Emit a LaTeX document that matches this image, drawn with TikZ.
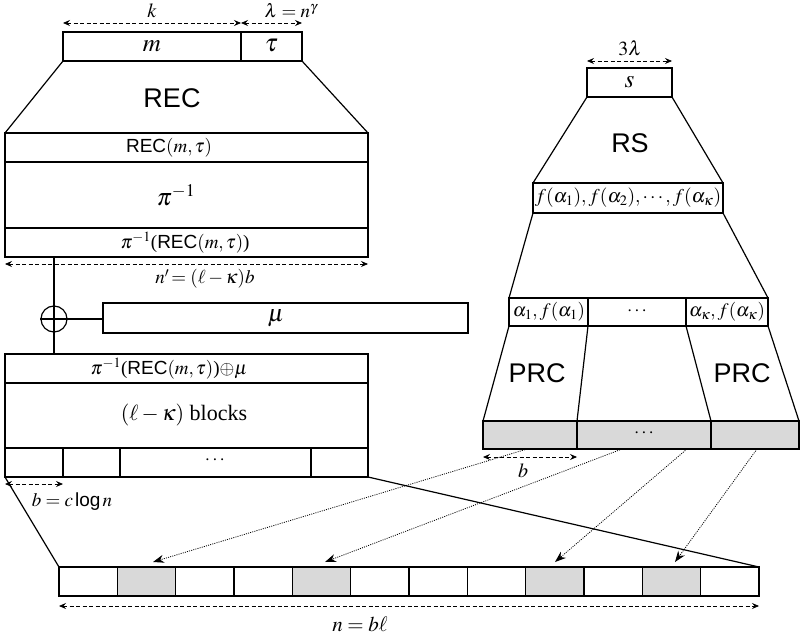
\RequirePackage{fix-cm}
\documentclass[tikz,border=0pt]{standalone}
\usepackage{mathptmx}
\usepackage[no-math]{fontspec}
\setmainfont{Liberation Serif}
\setsansfont{Liberation Sans}
\usetikzlibrary{arrows.meta}
\definecolor{cellgray}{HTML}{D9D9D9}
\tikzset{
  dimtip/.tip={Stealth[length=7pt,width=6pt,inset=2.5pt]},
  dimarrow/.style={line width=0.8pt, dash pattern=on 4pt off 2.5pt, {dimtip}-{dimtip}},
  maparrow/.style={line width=0.8pt, dash pattern=on 1pt off 1.2pt, -{Stealth[length=11pt,width=8pt,inset=3.5pt]}},
  lbl/.style={inner sep=0pt, font=\fontsize{19}{22}\selectfont},
  dimlbl/.style={inner sep=0pt, font=\fontsize{20}{23}\selectfont},
  big/.style={inner sep=0pt, font=\fontsize{27}{30}\selectfont\sffamily},
  frame/.style={line width=1.2pt},
  grayfill/.style={fill=cellgray, line width=1.2pt}
}
\begin{document}
\begin{tikzpicture}[x=1pt,y=-1pt,line width=1.2pt,line join=miter]
\useasboundingbox (0,0) rectangle (800,636);

% ---------- left: m | tau ----------
\draw[frame] (63,32) rectangle (302,61);
\draw[frame] (241,32) -- (241,61);
\node[lbl, font=\fontsize{25}{28}\selectfont] (m) at (152,46) {$m$};
\node[lbl, font=\fontsize{25}{28}\selectfont] (tau) at (271.5,46) {$\tau$};
\coordinate (kL) at (63,23); \coordinate (kR) at (241,23); \coordinate (lR) at (302,23);
\draw[dimarrow] (kL) -- (kR);
\draw[dimarrow] (kR) -- (lR);
\node[dimlbl] (klbl) at (152,11) {$k$};
\node[dimlbl, font=\fontsize{19}{22}\selectfont] (lamlbl) at (291,11) {$\lambda=n^{\gamma}$};

% trapezoid REC
\draw[frame] (63,61) -- (5,133);
\draw[frame] (302,61) -- (368,133);
\node[big] (rec) at (172,98) {REC};

% REC(m,tau) / pi^-1 / pi^-1(REC)
\draw[frame] (5,133) rectangle (368,257);
\draw[frame] (5,162) -- (368,162);
\draw[frame] (5,228) -- (368,228);
\node[lbl] (recmt) at (169,147.5) {\textsf{REC}$(m,\tau)$};
\node[lbl, font=\fontsize{24}{28}\selectfont] (piinv) at (176,195) {$\pi^{-1}$};
\node[lbl] (pirec) at (185,242.5) {$\pi^{-1}$(\textsf{REC}$(m,\tau)$)};

% n'
\coordinate (nL) at (5,264); \coordinate (nR) at (368,264);
\draw[dimarrow] (nL) -- (nR);
\node[lbl] (nprime) at (205,279) {$n'\!=(\ell-\kappa)b$};

% xor
\node[draw, circle, line width=1.2pt, minimum size=26pt, inner sep=0pt] (xor) at (54,319) {};
\draw[line width=1.2pt] (xor.north) -- (xor.south);
\draw[line width=1.2pt] (xor.west) -- (xor.east);
\draw[frame] (54,257) -- (xor.north);
\draw[frame] (xor.south) -- (54,354);
\draw[frame] (103,303) rectangle (468,333);
\node[lbl, font=\fontsize{24}{28}\selectfont] (mu) at (276,318) {$\mu$};
\draw[frame] (xor.east) -- (103,319);

% lower box
\draw[frame] (5,354) rectangle (368,477);
\draw[frame] (5,383) -- (368,383);
\draw[frame] (5,448) -- (368,448);
\foreach \x in {63,120,311} \draw[frame] (\x,448) -- (\x,477);
\node[lbl] (xorlbl) at (169,368.5) {$\pi^{-1}$(\textsf{REC}$(m,\tau)$)$\oplus\mu$};
\node[lbl, font=\fontsize{22}{26}\selectfont] (blocks) at (184,415) {$(\ell-\kappa)$ blocks};
\node[lbl] (ldots) at (215,460) {$\cdots$};

% b = c log n
\coordinate (bL) at (5,484); \coordinate (bR) at (63,484);
\draw[dimarrow] (bL) -- (bR);
\node[lbl] (blog) at (72,502) {$b=c\,$\textsf{log}$\,n$};

% fan to bottom
\draw[frame] (5,477) -- (59,567);
\draw[frame] (368,477) -- (759,567);

% bottom strip
\foreach \i in {0,...,11} {
  \pgfmathsetmacro{\xa}{59+\i*58.333}
  \pgfmathsetmacro{\xb}{59+(\i+1)*58.333}
  \draw[frame] (\xa,567) rectangle (\xb,596);
}
\foreach \i in {1,4,8,10} {
  \pgfmathsetmacro{\xa}{59+\i*58.333}
  \pgfmathsetmacro{\xb}{59+(\i+1)*58.333}
  \draw[grayfill] (\xa,567) rectangle (\xb,596);
}
\coordinate (tA) at (153,562);
\coordinate (tB) at (325,562);
\coordinate (tC) at (555,562);
\coordinate (tD) at (675,562);
\coordinate (nbL) at (59,606); \coordinate (nbR) at (759,606);
\draw[dimarrow] (nbL) -- (nbR);
\node[dimlbl, font=\fontsize{21}{24}\selectfont] (nbl) at (360,624) {$n=b\ell$};

% ---------- right: s ----------
\draw[frame] (587,68) rectangle (672,97);
\node[lbl, font=\fontsize{25}{28}\selectfont] (s) at (629.5,82) {$s$};
\coordinate (sL) at (587,61); \coordinate (sR) at (672,61);
\draw[dimarrow] (sL) -- (sR);
\node[dimlbl] (three) at (630,48) {$3\lambda$};

\draw[frame] (587,97) -- (533,183);
\draw[frame] (672,97) -- (723,183);
\node[big] (rs) at (630,143) {RS};

\draw[frame] (533,183) rectangle (723,213);
\node[lbl, font=\fontsize{19.5}{22}\selectfont] (fvals) at (628,198) {$f(\alpha_1),f(\alpha_2),\cdots,f(\alpha_\kappa)$};

\draw[frame] (533,213) -- (509,298);
\draw[frame] (723,213) -- (768,298);

\draw[frame] (509,298) rectangle (768,326);
\draw[frame] (588,298) -- (588,326);
\draw[frame] (686,298) -- (686,326);
\node[lbl, font=\fontsize{19}{22}\selectfont] (a1) at (549,312) {$\alpha_1,f(\alpha_1)$};
\node[lbl] (adots) at (637,311) {$\cdots$};
\node[lbl, font=\fontsize{19}{22}\selectfont] (ak) at (727,312) {$\alpha_\kappa,f(\alpha_\kappa)$};

\draw[frame] (509,326) -- (483,421);
\draw[frame] (588,326) -- (577,421);
\draw[frame] (686,326) -- (711,421);
\draw[frame] (768,326) -- (799,421);
\node[big] (prc1) at (537,373) {PRC};
\node[big] (prc2) at (742,373) {PRC};

\draw[grayfill] (483,421) rectangle (799,449);
\draw[frame] (577,421) -- (577,449);
\draw[frame] (711,421) -- (711,449);
\node[lbl] (gdots) at (644,433) {$\cdots$};

\coordinate (rbL) at (483,457); \coordinate (rbR) at (577,457);
\draw[dimarrow] (rbL) -- (rbR);
\node[dimlbl] (rb) at (523,471) {$b$};

% mapping arrows
\coordinate (sA) at (527,449);
\coordinate (sB) at (622,449);
\coordinate (sC) at (687,449);
\coordinate (sD) at (757,449);
\draw[maparrow] (sA) -- (tA);
\draw[maparrow] (sB) -- (tB);
\draw[maparrow] (sC) -- (tC);
\draw[maparrow] (sD) -- (tD);
\end{tikzpicture}
\end{document}
